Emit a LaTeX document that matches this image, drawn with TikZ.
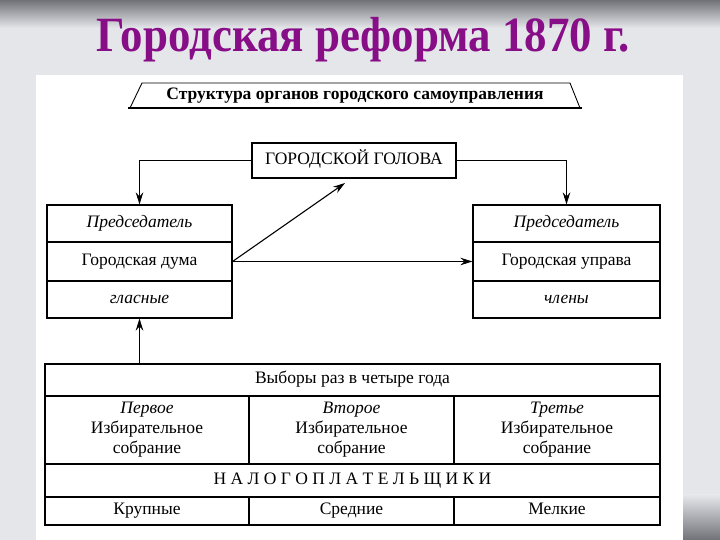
\documentclass[tikz,border=0pt]{standalone}
\usepackage{fontspec}
\setmainfont{Liberation Serif}
\usetikzlibrary{arrows.meta,calc}
\definecolor{slidebg}{RGB}{228,230,234}
\definecolor{slidedark}{RGB}{112,114,120}
\definecolor{titlepurple}{RGB}{136,14,136}
\begin{document}
\begin{tikzpicture}[x=1pt,y=1pt,
  cellbase/.style={draw=black, line width=1.1pt, inner sep=0pt, align=center,
    font=\fontsize{17.5}{20}\selectfont},
  cell/.style={cellbase, text height=12pt, text depth=4pt},
  cellit/.style={cell, font=\fontsize{17.5}{20}\selectfont\itshape},
  arr/.style={line width=1.1pt, -{Stealth[length=12pt,width=7.5pt]}}]
\useasboundingbox (0,0) rectangle (720,540);
% slide background
\fill[slidebg] (0,0) rectangle (720,540);
\shade[top color=slidedark, bottom color=slidebg] (0,512) rectangle (720,540);
\shade[top color=slidebg, bottom color=slidedark] (683,0) rectangle (720,45);
\fill[white] (36,0) rectangle (683,465);
% title
\node[font=\fontsize{44}{48}\selectfont\bfseries, text=titlepurple, anchor=base]
  (title) at (363,488) {\scalebox{1.02}[1.12]{Городская реформа 1870 г.}};
% banner
\draw[line width=0.9pt] (130,432) -- (142,457) -- (570,457) -- (580,432);
\draw[line width=2pt] (128,432) -- (582,432);
\node[font=\fontsize{17.5}{20}\selectfont\bfseries] (banner) at (355,444) {Структура органов городского самоуправления};
% head
\node[cell, minimum width=204pt, minimum height=35pt] (golova) at (354,379.5) {ГОРОДСКОЙ ГОЛОВА};
% left box
\node[cellit, minimum width=185pt, minimum height=37pt] (lp) at (139.5,316.5) {Председатель};
\node[cell, minimum width=185pt, minimum height=39pt] (lg) at (139.5,278.5) {Городская дума};
\node[cellit, minimum width=185pt, minimum height=37pt] (lgl) at (139.5,240.5) {гласные};
% right box
\node[cellit, minimum width=187pt, minimum height=37pt] (rp) at (566.5,316.5) {Председатель};
\node[cell, minimum width=187pt, minimum height=39pt] (ru) at (566.5,278.5) {Городская управа};
\node[cellit, minimum width=187pt, minimum height=37pt] (rc) at (566.5,240.5) {члены};
% table
\node[cell, minimum width=615pt, minimum height=32pt] (vyb) at (352.5,160) {Выборы раз в четыре года};
\node[cellbase, minimum width=204pt, minimum height=68pt] (s1) at (147,110) {\textit{Первое}\\Избирательное\\собрание};
\node[cellbase, minimum width=205pt, minimum height=68pt] (s2) at (351.5,110) {\textit{Второе}\\Избирательное\\собрание};
\node[cellbase, minimum width=206pt, minimum height=68pt] (s3) at (557,110) {\textit{Третье}\\Избирательное\\собрание};
\node[cell, minimum width=615pt, minimum height=33pt] (nal) at (352.5,59.5) {Н А Л О Г О П Л А Т Е Л Ь Щ И К И};
\node[cell, minimum width=204pt, minimum height=28pt] (k1) at (147,29) {Крупные};
\node[cell, minimum width=205pt, minimum height=28pt] (k2) at (351.5,29) {Средние};
\node[cell, minimum width=206pt, minimum height=28pt] (k3) at (557,29) {Мелкие};
% connectors
\coordinate (gtip) at (345,357);
\draw[arr] (golova.west) -| (lp.north);
\draw[arr] (golova.east) -| (rp.north);
\draw[arr] (lg.east) -- (gtip);
\draw[arr] (lg.east) -- (ru.west);
\draw[arr] (vyb.north -| lgl.south) -- (lgl.south);
\end{tikzpicture}
\end{document}
